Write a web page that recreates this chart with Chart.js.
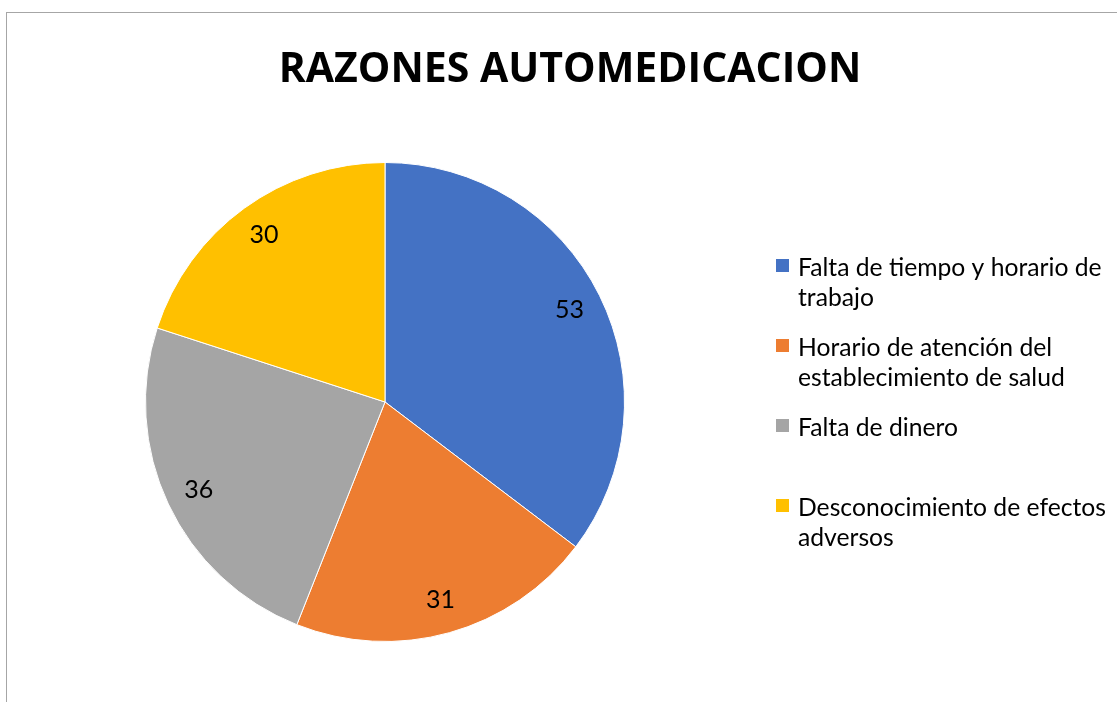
<!DOCTYPE html>
<html>
<head>
<meta charset="utf-8">
<script src="https://cdn.jsdelivr.net/npm/chart.js@4.4.1/dist/chart.umd.min.js"></script>
<style>
  html, body { margin: 0; padding: 0; background: #fff; overflow: hidden; }
  #box {
    position: absolute; left: 6px; top: 12px;
    width: 1126px; height: 700px;
    border-left: 1px solid #a6a6a6; border-top: 1px solid #a6a6a6;
  }
  #razones { display: block; }
</style>
</head>
<body>
<div id="box"><canvas id="razones" width="1126" height="689"></canvas></div>
<script>
const titleText = "RAZONES AUTOMEDICACION";
const categories = [
  "Falta de tiempo y horario de trabajo",
  "Horario de atención del establecimiento de salud",
  "Falta de dinero",
  "Desconocimiento de efectos adversos"
];
const values = [53, 31, 36, 30];
const colors = ["#4472C4", "#ED7D31", "#A5A5A5", "#FFC000"];

const FONT = "Lato, 'Open Sans', sans-serif";

// title centred on the whole box, not just the pie area
const boxTitle = {
  id: "boxTitle",
  afterDraw(chart) {
    const ctx = chart.ctx;
    ctx.save();
    ctx.font = "bold 41px 'Open Sans', sans-serif";
    ctx.fillStyle = "#000";
    ctx.textAlign = "center";
    ctx.textBaseline = "alphabetic";
    ctx.fillText(titleText, chart.width / 2, 69);
    ctx.restore();
  }
};

// numbers inside the slices
const sliceLabels = {
  id: "sliceLabels",
  afterDatasetsDraw(chart) {
    const ctx = chart.ctx;
    const meta = chart.getDatasetMeta(0);
    ctx.save();
    ctx.font = "25px " + FONT;
    ctx.fillStyle = "#000";
    ctx.textAlign = "center";
    ctx.textBaseline = "middle";
    meta.data.forEach((arc, i) => {
      const p = arc.getProps(["x", "y", "startAngle", "endAngle", "outerRadius"], true);
      const mid = (p.startAngle + p.endAngle) / 2;
      const r = p.outerRadius * 0.86;
      ctx.fillText(chart.data.datasets[0].data[i], p.x + Math.cos(mid) * r, p.y + Math.sin(mid) * r);
    });
    ctx.restore();
  }
};

// legend on the right, with wrapped labels
function wrap(ctx, text, maxW) {
  const words = text.split(" ");
  const lines = [];
  let cur = "";
  words.forEach(w => {
    const test = cur ? cur + " " + w : w;
    if (ctx.measureText(test).width > maxW && cur) {
      lines.push(cur);
      cur = w;
    } else {
      cur = test;
    }
  });
  if (cur) lines.push(cur);
  return lines;
}

const sideLegend = {
  id: "sideLegend",
  afterDraw(chart) {
    const ctx = chart.ctx;
    const bg = chart.data.datasets[0].backgroundColor;
    ctx.save();
    ctx.font = "24.7px " + FONT;
    ctx.textBaseline = "middle";
    ctx.textAlign = "left";
    chart.data.labels.forEach((lab, i) => {
      const y = 253 + i * 80;
      ctx.fillStyle = bg[i];
      ctx.fillRect(769, y - 7, 13, 13);
      ctx.fillStyle = "#000";
      wrap(ctx, lab, 322).forEach((line, j) => {
        ctx.fillText(line, 791, y + 2 + j * 30);
      });
    });
    ctx.restore();
  }
};

new Chart(document.getElementById("razones").getContext("2d"), {
  type: "pie",
  data: {
    labels: categories,
    datasets: [{
      data: values,
      backgroundColor: colors,
      borderColor: "#fff",
      borderWidth: 1,
      hoverOffset: 0
    }]
  },
  options: {
    responsive: false,
    animation: false,
    layout: {
      padding: { left: 138, right: 508, top: 149, bottom: 60 }
    },
    plugins: {
      legend: { display: false },
      tooltip: { enabled: false },
      title: { display: false }
    }
  },
  plugins: [sliceLabels, sideLegend, boxTitle]
});
</script>
</body>
</html>
